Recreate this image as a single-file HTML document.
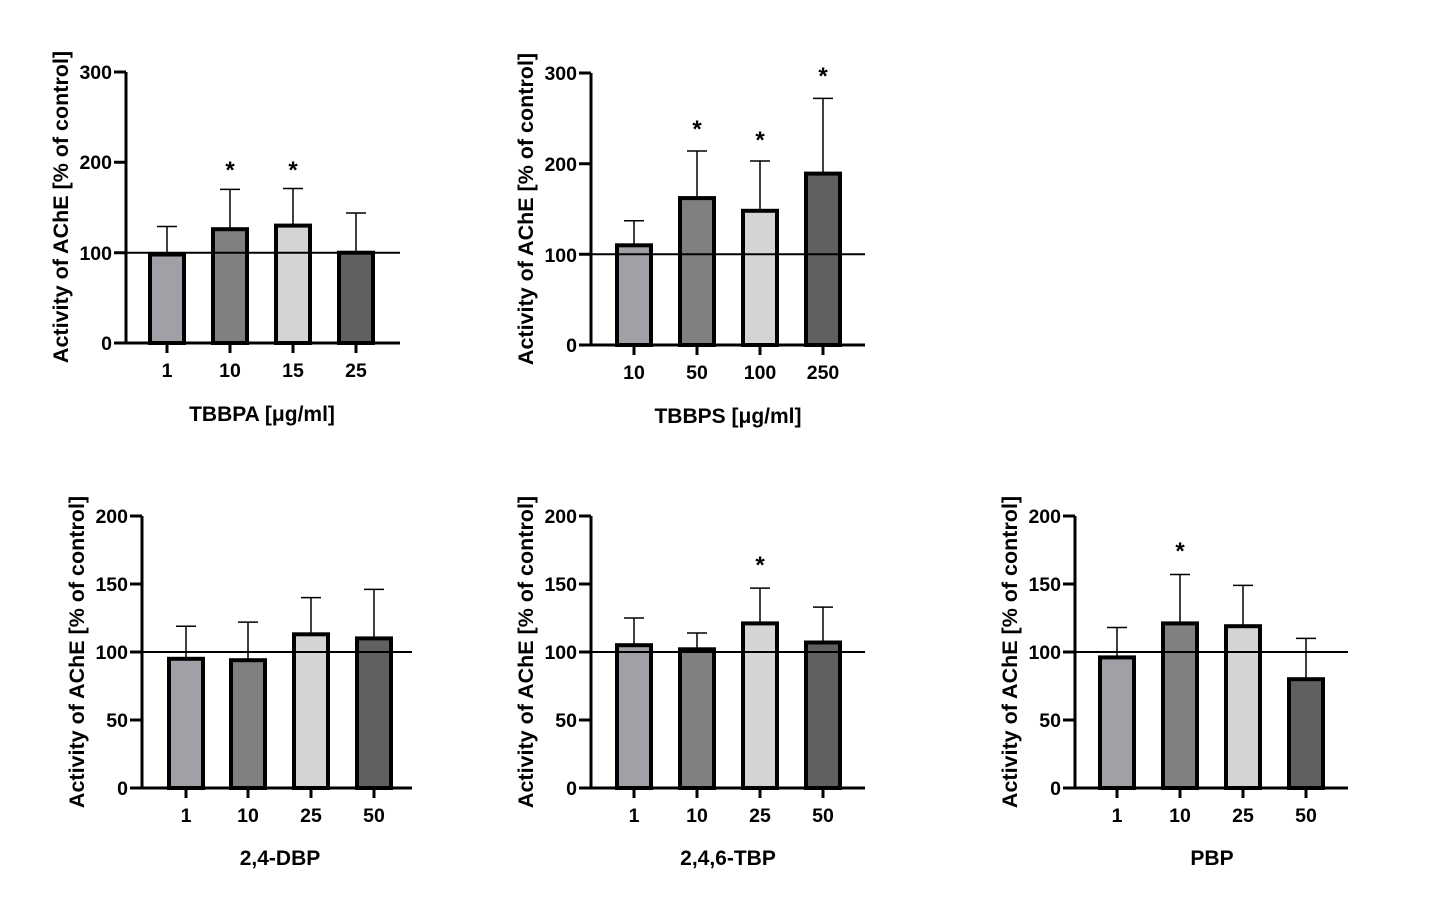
<!DOCTYPE html>
<html><head><meta charset="utf-8"><style>body{margin:0;background:#fff}svg{display:block}text{font-family:"Liberation Sans",Arial,sans-serif;font-weight:bold;fill:#000}</style></head><body>
<svg width="1437" height="915" viewBox="0 0 1437 915" xmlns="http://www.w3.org/2000/svg">
<g font-size="19.5">
<!-- Panel 1 -->
<g stroke="#000" stroke-width="4">
<rect x="150" y="254.5" width="34" height="88.5" fill="#a0a0a6"/>
<rect x="213" y="229.2" width="34" height="113.8" fill="#808080"/>
<rect x="276" y="225.6" width="34" height="117.4" fill="#d4d4d4"/>
<rect x="339" y="252.7" width="34" height="90.3" fill="#606060"/>
</g>
<g stroke="#000" stroke-width="1.5">
<path d="M167 254.5V226.5M157 226.5H177M230 229.2V189.4M220 189.4H240M293 225.6V188.5M283 188.5H303M356 252.7V213M346 213H366"/>
</g>
<g stroke="#000" stroke-width="3" fill="none">
<path d="M126 72V344M114 343H400M114 252.7H126M114 162.3H126M114 72H126M167 343v10M230 343v10M293 343v10M356 343v10"/>
<path d="M126 252.7H400" stroke-width="2"/>
</g>
<g text-anchor="end"><text x="112" y="350">0</text><text x="112" y="260">100</text><text x="112" y="169">200</text><text x="112" y="79">300</text></g>
<g text-anchor="middle"><text x="167" y="377">1</text><text x="230" y="377">10</text><text x="293" y="377">15</text><text x="356" y="377">25</text>
<text x="230" y="178" font-size="24">*</text><text x="293" y="178" font-size="24">*</text>
<text x="262" y="421" font-size="21">TBBPA [μg/ml]</text>
<text transform="translate(68,207) rotate(-90)" font-size="21.5">Activity of AChE [% of control]</text></g>

<!-- Panel 2 -->
<g stroke="#000" stroke-width="4">
<rect x="617" y="245.3" width="34" height="99.7" fill="#a0a0a6"/>
<rect x="680" y="198.1" width="34" height="146.9" fill="#808080"/>
<rect x="743" y="210.8" width="34" height="134.2" fill="#d4d4d4"/>
<rect x="806" y="173.6" width="34" height="171.4" fill="#606060"/>
</g>
<g stroke="#000" stroke-width="1.5">
<path d="M634 245.3V220.8M624 220.8H644M697 198.1V151M687 151H707M760 210.8V161M750 161H770M823 173.6V98.4M813 98.4H833"/>
</g>
<g stroke="#000" stroke-width="3" fill="none">
<path d="M591 73V346M579 345H865M579 254.3H591M579 163.7H591M579 73H591M634 345v10M697 345v10M760 345v10M823 345v10"/>
<path d="M591 254.3H865" stroke-width="2"/>
</g>
<g text-anchor="end"><text x="577" y="352">0</text><text x="577" y="262">100</text><text x="577" y="171">200</text><text x="577" y="80">300</text></g>
<g text-anchor="middle"><text x="634" y="379">10</text><text x="697" y="379">50</text><text x="760" y="379">100</text><text x="823" y="379">250</text>
<text x="697" y="137" font-size="24">*</text><text x="760" y="148" font-size="24">*</text><text x="823" y="84" font-size="24">*</text>
<text x="728" y="423" font-size="21">TBBPS [μg/ml]</text>
<text transform="translate(533,209) rotate(-90)" font-size="21.5">Activity of AChE [% of control]</text></g>

<!-- Panel 3 -->
<g stroke="#000" stroke-width="4">
<rect x="169" y="658.8" width="34" height="129.2" fill="#a0a0a6"/>
<rect x="231" y="660.2" width="34" height="127.8" fill="#808080"/>
<rect x="294" y="634.3" width="34" height="153.7" fill="#d4d4d4"/>
<rect x="357" y="638.4" width="34" height="149.6" fill="#606060"/>
</g>
<g stroke="#000" stroke-width="1.5">
<path d="M186 658.8V626.2M176 626.2H196M248 660.2V622.1M238 622.1H258M311 634.3V597.6M301 597.6H321M374 638.4V589.4M364 589.4H384"/>
</g>
<g stroke="#000" stroke-width="3" fill="none">
<path d="M142 516V789M130 788H412M130 720H142M130 652H142M130 584H142M130 516H142M186 788v10M248 788v10M311 788v10M374 788v10"/>
<path d="M142 652H412" stroke-width="2"/>
</g>
<g text-anchor="end"><text x="128" y="795">0</text><text x="128" y="727">50</text><text x="128" y="659">100</text><text x="128" y="591">150</text><text x="128" y="523">200</text></g>
<g text-anchor="middle"><text x="186" y="822">1</text><text x="248" y="822">10</text><text x="311" y="822">25</text><text x="374" y="822">50</text>
<text x="280" y="865" font-size="21">2,4-DBP</text>
<text transform="translate(84,652) rotate(-90)" font-size="21.5">Activity of AChE [% of control]</text></g>

<!-- Panel 4 -->
<g stroke="#000" stroke-width="4">
<rect x="617" y="645.2" width="34" height="142.8" fill="#a0a0a6"/>
<rect x="680" y="649.3" width="34" height="138.7" fill="#808080"/>
<rect x="743" y="623.4" width="34" height="164.6" fill="#d4d4d4"/>
<rect x="806" y="642.5" width="34" height="145.5" fill="#606060"/>
</g>
<g stroke="#000" stroke-width="1.5">
<path d="M634 645.2V618M624 618H644M697 649.3V633M687 633H707M760 623.4V588.1M750 588.1H770M823 642.5V607.1M813 607.1H833"/>
</g>
<g stroke="#000" stroke-width="3" fill="none">
<path d="M591 516V789M579 788H865M579 720H591M579 652H591M579 584H591M579 516H591M634 788v10M697 788v10M760 788v10M823 788v10"/>
<path d="M591 652H865" stroke-width="2"/>
</g>
<g text-anchor="end"><text x="577" y="795">0</text><text x="577" y="727">50</text><text x="577" y="659">100</text><text x="577" y="591">150</text><text x="577" y="523">200</text></g>
<g text-anchor="middle"><text x="634" y="822">1</text><text x="697" y="822">10</text><text x="760" y="822">25</text><text x="823" y="822">50</text>
<text x="760" y="573" font-size="24">*</text>
<text x="728" y="865" font-size="21">2,4,6-TBP</text>
<text transform="translate(533,652) rotate(-90)" font-size="21.5">Activity of AChE [% of control]</text></g>

<!-- Panel 5 -->
<g stroke="#000" stroke-width="4">
<rect x="1100" y="657.4" width="34" height="130.6" fill="#a0a0a6"/>
<rect x="1163" y="623.4" width="34" height="164.6" fill="#808080"/>
<rect x="1226" y="626.2" width="34" height="161.8" fill="#d4d4d4"/>
<rect x="1289" y="679.2" width="34" height="108.8" fill="#606060"/>
</g>
<g stroke="#000" stroke-width="1.5">
<path d="M1117 657.4V627.5M1107 627.5H1127M1180 623.4V574.5M1170 574.5H1190M1243 626.2V585.4M1233 585.4H1253M1306 679.2V638.4M1296 638.4H1316"/>
</g>
<g stroke="#000" stroke-width="3" fill="none">
<path d="M1075 516V789M1063 788H1348M1063 720H1075M1063 652H1075M1063 584H1075M1063 516H1075M1117 788v10M1180 788v10M1243 788v10M1306 788v10"/>
<path d="M1075 652H1348" stroke-width="2"/>
</g>
<g text-anchor="end"><text x="1061" y="795">0</text><text x="1061" y="727">50</text><text x="1061" y="659">100</text><text x="1061" y="591">150</text><text x="1061" y="523">200</text></g>
<g text-anchor="middle"><text x="1117" y="822">1</text><text x="1180" y="822">10</text><text x="1243" y="822">25</text><text x="1306" y="822">50</text>
<text x="1180" y="559" font-size="24">*</text>
<text x="1212" y="865" font-size="21">PBP</text>
<text transform="translate(1017,652) rotate(-90)" font-size="21.5">Activity of AChE [% of control]</text></g>
</g>
</svg>
</body></html>
